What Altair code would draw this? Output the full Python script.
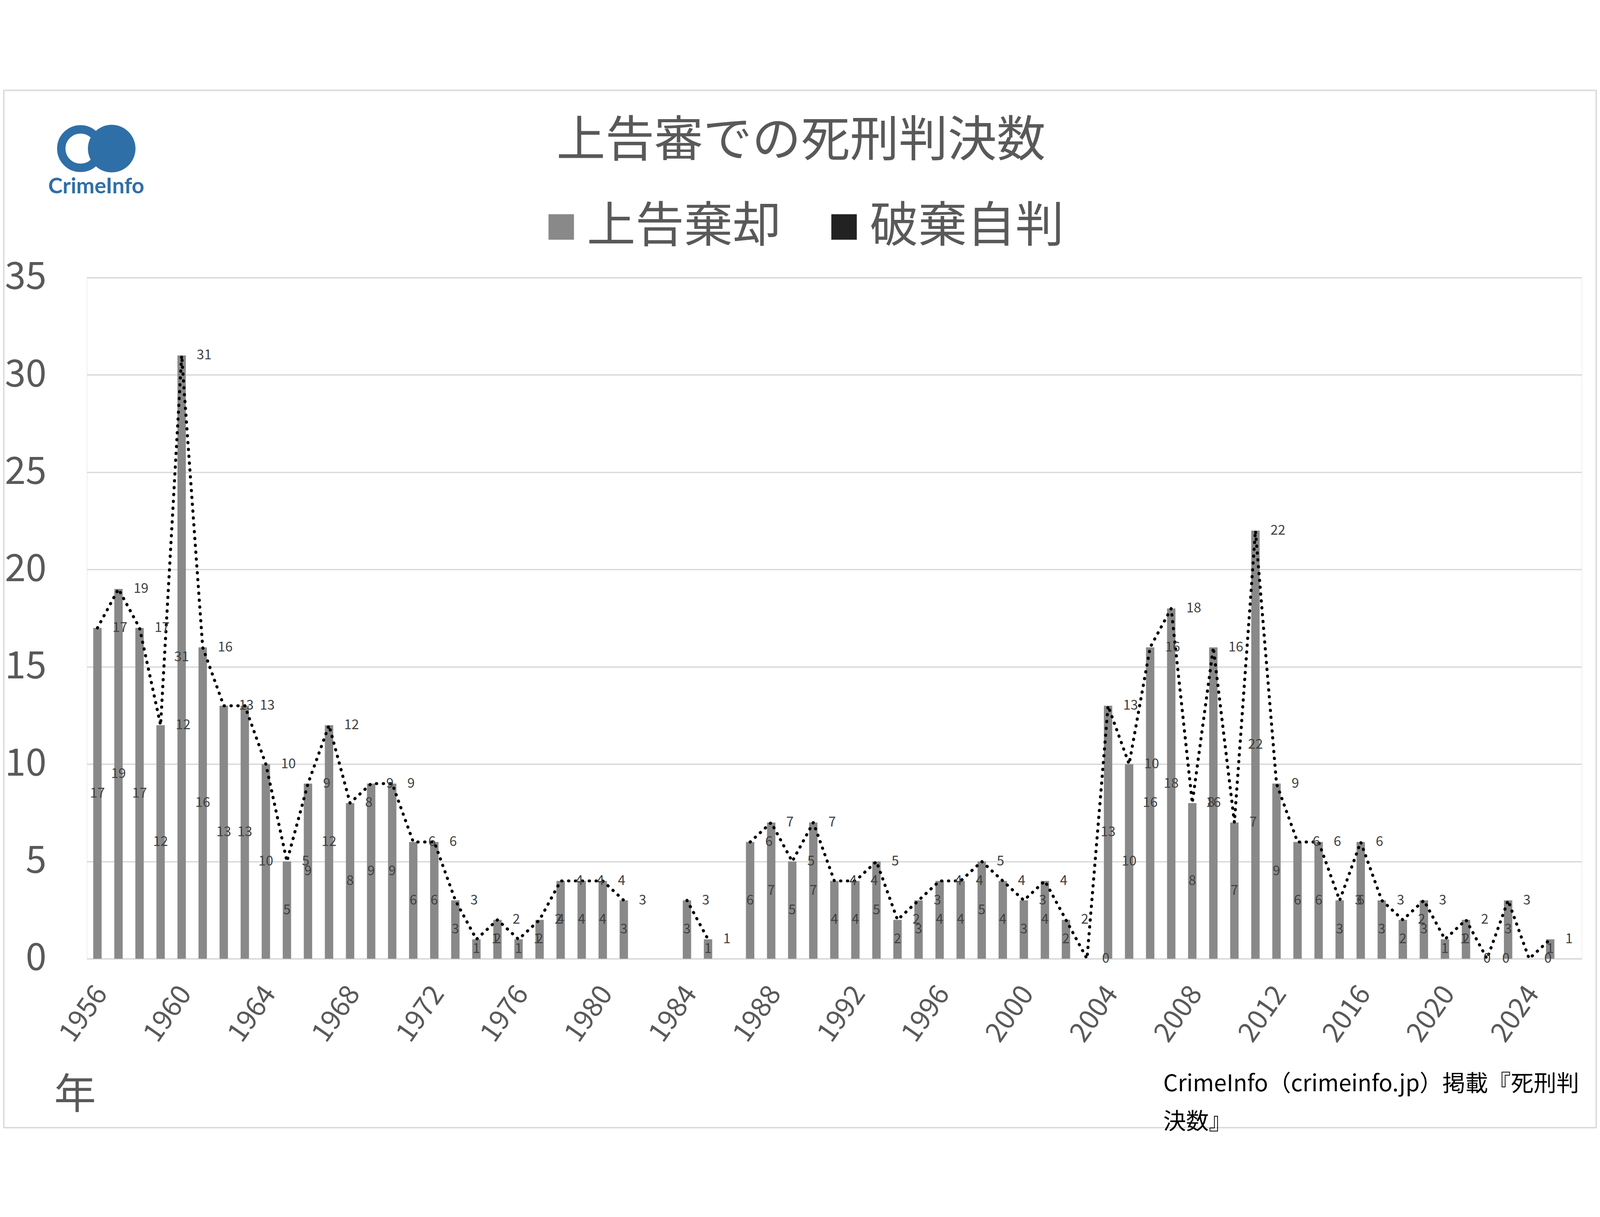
import altair as alt
import pandas as pd

# ---- data ----
years = list(range(1956, 2027))
# 上告棄却 (grey bars)
rejected = [17, 19, 17, 12, 31, 16, 13, 13, 10, 5,
            9, 12, 8, 9, 9, 6, 6, 3, 1, 2,
            1, 2, 4, 4, 4, 3, None, None, 3, 1,
            None, 6, 7, 5, 7, 4, 4, 5, 2, 3,
            4, 4, 5, 4, 3, 4, 2, None, 13, 10,
            16, 18, 8, 16, 7, 22, 9, 6, 6, 3,
            6, 3, 2, 3, 1, 2, 0, 3, None, 1,
            None]
# 破棄自判 (black bars) - none visible
reversed_ = [0] * len(years)
# total (dotted line)
total = [17, 19, 17, 12, 31, 16, 13, 13, 10, 5,
         9, 12, 8, 9, 9, 6, 6, 3, 1, 2,
         1, 2, 4, 4, 4, 3, None, None, 3, 1,
         None, 6, 7, 5, 7, 4, 4, 5, 2, 3,
         4, 4, 5, 4, 3, 4, 2, 0, 13, 10,
         16, 18, 8, 16, 7, 22, 9, 6, 6, 3,
         6, 3, 2, 3, 1, 2, 0, 3, 0, 1,
         None]

series_names = ["上告棄却", "破棄自判"]
series_colors = ["#898989", "#222222"]
title_text = "上告審での死刑判決数"
source_lines = ["CrimeInfo（crimeinfo.jp）掲載『死刑判", "決数』"]
x_title = "年"
y_ticks = [0, 5, 10, 15, 20, 25, 30, 35]

FONT = "Noto Sans CJK JP"
GREY_TXT = "#595959"
BLUE = "#2f6fa7"

W, H = 4461, 2033
PAD_L, PAD_T, PAD_R, PAD_B = 250, 561, 45, 506

bars_df = pd.DataFrame(
    [{"year": y, "series": series_names[0], "value": v, "ord": 0} for y, v in zip(years, rejected)]
    + [{"year": y, "series": series_names[1], "value": v, "ord": 1} for y, v in zip(years, reversed_)]
)
main_df = pd.DataFrame({"year": years, "rejected": rejected, "total": total})

xenc = alt.X(
    "year:O",
    scale=alt.Scale(domain=years, paddingInner=0, paddingOuter=0),
    axis=alt.Axis(
        title=x_title,
        titleFont=FONT, titleFontSize=125, titleColor=GREY_TXT, titleFontWeight="normal",
        titleX=-36, titleY=408, titleAlign="center", titleBaseline="middle", titleAngle=0,
        labelExpr="datum.value % 4 == 0 ? datum.value : ''",
        labelAngle=-55, labelAlign="right", labelBaseline="middle",
        labelFont=FONT, labelFontSize=82, labelColor=GREY_TXT, labelPadding=90,
        labelOffset=12, labelOverlap=False, labelLimit=0,
        ticks=False, domainColor="#d9d9d9", domainWidth=4, grid=False,
    ),
)

bars = alt.Chart(bars_df).mark_bar(size=25).encode(
    x=xenc,
    y=alt.Y(
        "value:Q",
        stack="zero",
        scale=alt.Scale(domain=[0, 35], nice=False),
        axis=alt.Axis(
            title=None, values=y_ticks, format="d", ticks=False, domain=False,
            gridColor="#d9d9d9", gridWidth=4, labelLimit=0,
            labelFont=FONT, labelFontSize=112, labelColor=GREY_TXT, labelPadding=121,
        ),
    ),
    color=alt.Color(
        "series:N",
        scale=alt.Scale(domain=series_names, range=series_colors),
        legend=alt.Legend(
            title=None, orient="none", legendX=1343, legendY=-224, direction="horizontal",
            symbolType="square", symbolSize=5776, symbolStrokeWidth=0,
            labelFont=FONT, labelFontSize=145, labelColor=GREY_TXT, labelLimit=0,
            labelOffset=4, columnPadding=115,
        ),
    ),
    order=alt.Order("ord:Q"),
)

bar_labels = alt.Chart(main_df).transform_filter(
    "isValid(datum.rejected)"
).transform_calculate(half="datum.rejected / 2").mark_text(
    align="center", baseline="middle", font=FONT, fontSize=40, color="#404040"
).encode(x="year:O", y="half:Q", text="rejected:Q")

line = alt.Chart(main_df).mark_line(
    color="black", strokeWidth=9, strokeDash=[1, 19.5], strokeCap="round"
).encode(x="year:O", y="total:Q")

line_labels = alt.Chart(main_df).transform_filter(
    "isValid(datum.total)"
).mark_text(
    align="left", baseline="middle", dx=45, font=FONT, fontSize=40, color="#404040"
).encode(x="year:O", y="total:Q", text="total:Q")

one = pd.DataFrame({"k": [0]})
src_df = pd.DataFrame({"line": source_lines, "i": [0, 1]})

title = alt.Chart(one).mark_text(
    text=title_text, font=FONT, fontSize=146, color=GREY_TXT,
    align="center", baseline="alphabetic"
).encode(x=alt.value(2131), y=alt.value(-362))

source1 = alt.Chart(src_df).transform_filter("datum.i == 0").mark_text(
    align="left", baseline="alphabetic", font=FONT, fontSize=68, color="black"
).encode(x=alt.value(3212), y=alt.value(2428), text="line:N")

source2 = alt.Chart(src_df).transform_filter("datum.i == 1").mark_text(
    align="left", baseline="alphabetic", font=FONT, fontSize=68, color="black"
).encode(x=alt.value(3212), y=alt.value(2542), text="line:N")

ring = alt.Chart(one).mark_point(
    shape="circle", filled=False, stroke=BLUE, strokeWidth=25, size=13225, opacity=1
).encode(x=alt.value(-19), y=alt.value(-385))
disc = alt.Chart(one).mark_point(
    shape="circle", filled=True, fill=BLUE, strokeWidth=0, size=20164, opacity=1
).encode(x=alt.value(74), y=alt.value(-385))
logo_txt = alt.Chart(one).mark_text(
    text="CrimeInfo", font="Lato", fontWeight="bold", fontSize=65, color=BLUE,
    align="center", baseline="alphabetic"
).encode(x=alt.value(28), y=alt.value(-251))

# outer frame: also fixes the overall bounds (autosize pad)
frame = alt.Chart(one).mark_rect(
    fillOpacity=0, stroke="#d9d9d9", strokeWidth=4
).encode(
    x=alt.value(-PAD_L + 2), x2=alt.value(W + PAD_R - 2),
    y=alt.value(-PAD_T + 2), y2=alt.value(H + PAD_B - 2),
)

chart = alt.layer(
    frame, bars, line, bar_labels, line_labels, title, source1, source2, ring, disc, logo_txt
).properties(
    width=W,
    height=H,
    autosize=alt.AutoSizeParams(type="pad"),
    padding=0,
).configure_view(stroke=None).configure(background="white")

chart.save("out.html", embed_options={"renderer": "svg", "actions": False})
